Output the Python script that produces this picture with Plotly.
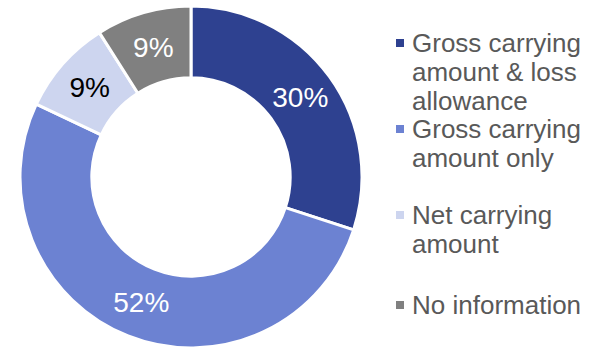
import plotly.graph_objects as go

categories = ["Gross carrying amount & loss allowance", "Gross carrying amount only",
              "Net carrying amount", "No information"]
legend_lines = [["Gross carrying", "amount & loss", "allowance"],
                ["Gross carrying", "amount only"],
                ["Net carrying", "amount"],
                ["No information"]]
values = [30, 52, 9, 9]
colors = ["#2E4190", "#6C82D2", "#CDD5EF", "#808080"]
text_colors = ["white", "white", "black", "white"]

W, H = 595, 348
FONT = "Liberation Sans, Arial, sans-serif"

fig = go.Figure(go.Pie(
    labels=categories, values=values, sort=False, direction="clockwise", rotation=0,
    hole=0.58,
    marker=dict(colors=colors, line=dict(color="white", width=3)),
    textinfo="percent", texttemplate="%{percent:.0%}",
    textposition="inside", insidetextorientation="horizontal",
    textfont=dict(family=FONT, size=28, color=text_colors),
    domain=dict(x=[20 / W, 362 / W], y=[0, 342 / H]),
    showlegend=False, hoverinfo="label+percent",
))

# custom legend (tight line spacing as in the reference)
line_h = 29
item_top = [43, 129, 215, 305]  # y (px from top) of first line centre per item
annotations, shapes = [], []
for i, lines in enumerate(legend_lines):
    y0 = item_top[i]
    shapes.append(dict(type="rect", xref="paper", yref="paper",
                       x0=396 / W, x1=404 / W, y0=1 - (y0 + 4) / H, y1=1 - (y0 - 4) / H,
                       fillcolor=colors[i], line=dict(width=0)))
    for j, t in enumerate(lines):
        annotations.append(dict(text=t, xref="paper", yref="paper", x=410 / W,
                                y=1 - (y0 + j * line_h) / H, xanchor="left", yanchor="middle",
                                showarrow=False, font=dict(family=FONT, size=26, color="#595959")))

fig.update_layout(width=W, height=H, margin=dict(l=0, r=0, t=0, b=0),
                  paper_bgcolor="white", plot_bgcolor="white",
                  annotations=annotations, shapes=shapes,
                  uniformtext=dict(minsize=28, mode="show"),
                  font=dict(family=FONT))
fig.write_html("out.html")
